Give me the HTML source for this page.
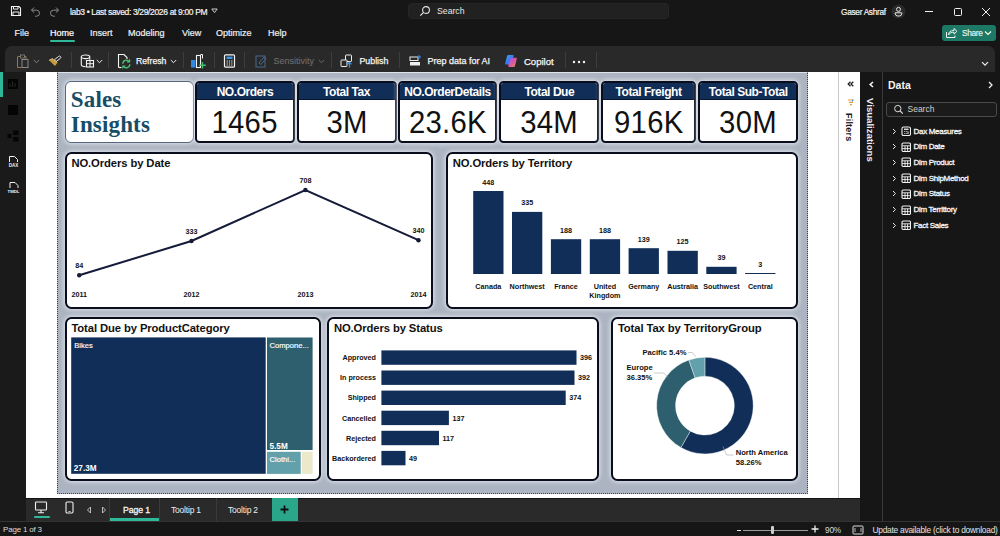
<!DOCTYPE html>
<html><head><meta charset="utf-8">
<style>
*{box-sizing:border-box;margin:0;padding:0}
html,body{width:1000px;height:536px;overflow:hidden;background:#161616;font-family:"Liberation Sans",sans-serif;color:#fff}
.a{position:absolute}
.t{position:absolute;white-space:nowrap;line-height:1}
#titlebar{left:0;top:0;width:1000px;height:46px;background:#161616}
#ribbon{left:5px;top:46px;width:990px;height:25.5px;background:#292929;border-radius:7px 7px 0 0}
.sep{position:absolute;top:52px;width:1px;height:16px;background:#3d3d3d}
.menu{font-size:9px;color:#f0f0f0;top:28.5px;-webkit-text-stroke-width:0.2px}
.rb{font-size:9.5px;color:#f6f6f6;top:57px;-webkit-text-stroke-width:0.25px}
#rail{left:0;top:72px;width:26px;height:449px;background:#1a1a1a}
#canvas{left:26px;top:72px;width:834px;height:426px;background:#fff}
#page{left:57.1px;top:72px;width:750.6px;height:421.8px;background:#abb4c0;border-top:1px solid #dfe4ec;border-right:1px dotted #444;border-bottom:1px dotted #444;border-left:1px dotted #444}
#tabs{left:26px;top:497.7px;width:834px;height:23.3px;background:#2a2a2a;border-top:1px solid #141414}
#status{left:0;top:521px;width:1000px;height:15px;background:#161616;border-top:1px solid #333}
#viz{left:860px;top:72px;width:22px;height:449px;background:#161616}
#datap{left:882px;top:72px;width:118px;height:449px;background:#161616;border-left:1px solid #3a3a3a}
.vis{position:absolute;background:#fff;border:2px solid #0a0d1c;border-radius:6.5px;box-shadow:0 0 4px 1px rgba(228,233,242,0.9)}
.kpi{position:absolute;background:#fff;border:2px solid #0a0d1c;border-radius:4.5px;overflow:hidden;box-shadow:0 0 4px 1px rgba(228,233,242,0.9)}
.kh{border-bottom:1px solid #0a1530;position:absolute;left:0;top:0;right:0;height:17px;background:#112e58;color:#fff;font-weight:bold;font-size:12px;text-align:center;line-height:19px;letter-spacing:-0.45px}
.kv{position:absolute;left:0;right:0;top:24.2px;color:#111;font-size:31.5px;text-align:center;line-height:1;letter-spacing:0.3px;transform:scaleX(0.93)}
.vt{position:absolute;left:4.5px;top:3px;color:#111;font-weight:bold;font-size:11.25px;letter-spacing:-0.1px;white-space:nowrap}
.sm{position:absolute;color:#111;font-weight:bold;font-size:7px;white-space:nowrap;line-height:1}
</style></head><body>
<div id="titlebar" class="a"></div>
<div id="ribbon" class="a"></div>
<div id="rail" class="a"></div>
<div id="canvas" class="a"></div>
<div id="page" class="a"></div>
<div id="tabs" class="a"></div>
<div id="viz" class="a"></div>
<div id="datap" class="a"></div>
<div id="status" class="a"></div>

<!-- title bar content -->
<svg class="a" style="left:10px;top:5px" width="12" height="12" viewBox="0 0 12 12"><path d="M1.5 1.5h7.5l1.5 1.5v7.5h-9z" fill="none" stroke="#f2f2f2" stroke-width="1.1"/><path d="M3.5 1.5v2.6h4.5v-2.6M3 10.5v-3.5h6v3.5" fill="none" stroke="#f2f2f2" stroke-width="1"/></svg>
<svg class="a" style="left:30px;top:6px" width="11" height="11" viewBox="0 0 11 11"><path d="M1.5 4.2l2.5-2.7M1.5 4.2l2.6 2.4M1.5 4.2h5a3 3 0 0 1 0 6h-1.5" fill="none" stroke="#8a8a8a" stroke-width="1"/></svg>
<svg class="a" style="left:49px;top:6px" width="11" height="11" viewBox="0 0 11 11"><path d="M9.5 4.2l-2.5-2.7M9.5 4.2l-2.6 2.4M9.5 4.2h-5a3 3 0 0 0 0 6h1.5" fill="none" stroke="#8a8a8a" stroke-width="1"/></svg>
<div class="t" style="left:70px;top:8.2px;font-size:8.5px;letter-spacing:-0.35px;color:#f4f4f4;-webkit-text-stroke:0.2px #f4f4f4">lab3 &#8226; Last saved: 3/29/2026 at 9:00 PM</div>
<svg class="a" style="left:211px;top:8px" width="7" height="6" viewBox="0 0 7 6"><path d="M0.8 1h5.4L3.5 4.6z" fill="none" stroke="#ddd" stroke-width="0.9"/></svg>
<div class="a" style="left:408px;top:3px;width:261px;height:16px;background:#212121;border-radius:4px;border:1px solid #262626"></div>
<svg class="a" style="left:419px;top:5px" width="12" height="12" viewBox="0 0 12 12"><circle cx="7" cy="5" r="3.4" fill="none" stroke="#e6e6e6" stroke-width="1.1"/><path d="M4.6 7.4L1.3 10.7" stroke="#e6e6e6" stroke-width="1.2"/></svg>
<div class="t" style="left:437px;top:6.5px;font-size:8.7px;color:#e8e8e8">Search</div>
<div class="t" style="left:841px;top:7.5px;font-size:8.3px;letter-spacing:-0.3px;color:#f4f4f4;-webkit-text-stroke-width:0.2px">Gaser Ashraf</div>
<svg class="a" style="left:891px;top:4px" width="15" height="15" viewBox="0 0 15 15"><circle cx="7.5" cy="7.5" r="7" fill="#2a2a2a"/><circle cx="7.5" cy="5.4" r="2" fill="none" stroke="#e8e8e8" stroke-width="1"/><path d="M4.2 8.8h6.6v1a2.6 2.6 0 0 1-2.6 2.2h-1.4a2.6 2.6 0 0 1-2.6-2.2z" fill="none" stroke="#e8e8e8" stroke-width="1"/></svg>
<div class="a" style="left:924.5px;top:11px;width:8px;height:1.2px;background:#f4f4f4"></div>
<div class="a" style="left:953.5px;top:7.5px;width:8px;height:8px;border:1px solid #f0f0f0;border-radius:1.5px"></div>
<svg class="a" style="left:981px;top:7px" width="10" height="10" viewBox="0 0 10 10"><path d="M1 1L9 9M9 1L1 9" stroke="#f0f0f0" stroke-width="1"/></svg>

<!-- menu -->
<div class="t menu" style="left:14.5px">File</div>
<div class="t menu" style="left:50px;color:#fff">Home</div>
<div class="a" style="left:50px;top:40px;width:25px;height:2px;background:#2fb899;border-radius:1px"></div>
<div class="t menu" style="left:90px">Insert</div>
<div class="t menu" style="left:128px">Modeling</div>
<div class="t menu" style="left:182px">View</div>
<div class="t menu" style="left:216px">Optimize</div>
<div class="t menu" style="left:268px">Help</div>
<div class="a" style="left:942px;top:25px;width:54px;height:16px;background:#1d7865;border-radius:3px"></div>
<svg class="a" style="left:945px;top:27px" width="13" height="12" viewBox="0 0 13 12"><path d="M1.5 5v5.5h8.5v-2" fill="none" stroke="#eaf4f1" stroke-width="1"/><path d="M3.5 8c0-3 2-4.5 5.5-4.5V1.5l3 2.8-3 2.8V5.2c-2.5 0-4.3 0.8-5.5 2.8z" fill="none" stroke="#eaf4f1" stroke-width="1"/></svg>
<div class="t" style="left:962px;top:28.7px;font-size:8.3px;letter-spacing:-0.3px;color:#eaf4f1;-webkit-text-stroke-width:0.15px">Share</div>
<svg class="a" style="left:984px;top:30px" width="8" height="6" viewBox="0 0 8 6"><path d="M1 1.5l3 3 3-3" fill="none" stroke="#f2faf7" stroke-width="1.2"/></svg>

<!-- ribbon content -->
<svg class="a" style="left:16px;top:54px" width="16" height="15" viewBox="0 0 16 15"><path d="M2 2.5h2.5M8 2.5h2v3" fill="none" stroke="#9a7a3a" stroke-width="1"/><path d="M1.5 2.5v11h4" fill="none" stroke="#9a7a3a" stroke-width="1"/><rect x="4.5" y="1" width="4" height="3" fill="none" stroke="#7a7a7a" stroke-width="0.9"/><rect x="6" y="5.5" width="6" height="8" fill="none" stroke="#8a8a8a" stroke-width="1"/></svg>
<svg class="a" style="left:33px;top:59px" width="7" height="5" viewBox="0 0 7 5"><path d="M0.8 1l2.7 2.7L6.2 1" fill="none" stroke="#8a8a8a" stroke-width="0.9"/></svg>
<svg class="a" style="left:48px;top:55px" width="14" height="12" viewBox="0 0 14 12"><path d="M1 5.2L7 11l2.6-3.6L5 3.4z" fill="#c89a3c"/><path d="M1 5.2L5 3.4" stroke="#e8d090" stroke-width="0.8"/><path d="M6.3 4.8l1.8 1.8 4.2-3.2a1.2 1.2 0 0 0-1.6-2z" fill="none" stroke="#e8e8e8" stroke-width="1"/></svg>
<div class="sep" style="left:70.5px"></div>
<svg class="a" style="left:80px;top:54px" width="15" height="14" viewBox="0 0 15 14"><ellipse cx="5.5" cy="2.8" rx="4.2" ry="1.8" fill="none" stroke="#f4f4f4" stroke-width="1.1"/><path d="M1.3 2.8v8c0 1 2 1.8 4.2 1.8M9.7 2.8v3" fill="none" stroke="#f4f4f4" stroke-width="1.1"/><rect x="6.5" y="6.5" width="7" height="6.5" fill="#292929" stroke="#f4f4f4" stroke-width="1.1"/><path d="M10 6.5v6.5M6.5 9.7h7" stroke="#f4f4f4" stroke-width="1"/></svg>
<svg class="a" style="left:96px;top:59px" width="7" height="5" viewBox="0 0 7 5"><path d="M0.8 1l2.7 2.7L6.2 1" fill="none" stroke="#eee" stroke-width="1"/></svg>
<div class="sep" style="left:107.5px"></div>
<svg class="a" style="left:117px;top:53px" width="14" height="16" viewBox="0 0 14 16"><path d="M1.5 14.5v-13h5.5l3 3v1.5" fill="none" stroke="#f4f4f4" stroke-width="1.1"/><path d="M1.5 14.5h3" stroke="#f4f4f4" stroke-width="1.1"/><path d="M5.8 10.8a3.6 3.6 0 0 1 6.4-2.2M12.8 11.2a3.6 3.6 0 0 1-6.4 2.2" fill="none" stroke="#4ccc78" stroke-width="1.3"/><path d="M12.6 6.3v2.6h-2.6M5.8 15.6v-2.6h2.6" fill="none" stroke="#4ccc78" stroke-width="1.1"/></svg>
<div class="t rb" style="left:136px;font-size:8.7px">Refresh</div>
<svg class="a" style="left:169.5px;top:59px" width="7" height="5" viewBox="0 0 7 5"><path d="M0.8 1l2.7 2.7L6.2 1" fill="none" stroke="#eee" stroke-width="1"/></svg>
<div class="sep" style="left:182.5px"></div>
<svg class="a" style="left:190px;top:53px" width="16" height="16" viewBox="0 0 16 16"><rect x="1" y="7" width="4.5" height="7.5" fill="#2f8ae0"/><rect x="6.5" y="2.5" width="4" height="12" fill="none" stroke="#f4f4f4" stroke-width="1.1"/><path d="M10.5 1.5h2v4" fill="none" stroke="#f4f4f4" stroke-width="1"/><path d="M12.5 9v6.5M9.3 12.3h6.5" stroke="#3fc070" stroke-width="1.4"/></svg>
<div class="sep" style="left:213.5px"></div>
<svg class="a" style="left:223px;top:54px" width="13" height="14" viewBox="0 0 13 14"><rect x="1.5" y="0.8" width="10" height="12.4" rx="1" fill="none" stroke="#f4f4f4" stroke-width="1.2"/><rect x="3.5" y="2.6" width="6" height="2.4" fill="#3a9ae8"/><path d="M3.6 7h1.2M5.9 7h1.2M8.2 7h1.2M3.6 9h1.2M5.9 9h1.2M8.2 9h1.2M3.6 11h1.2M5.9 11h1.2M8.2 11h1.2" stroke="#f4f4f4" stroke-width="1.1"/></svg>
<div class="sep" style="left:243.5px"></div>
<svg class="a" style="left:255px;top:54px" width="13" height="14" viewBox="0 0 13 14"><rect x="1" y="2" width="9" height="11" fill="none" stroke="#4a6a8a" stroke-width="1"/><path d="M4 9l5-6 2 1.5-5 6z" fill="none" stroke="#4a6a8a" stroke-width="1"/></svg>
<div class="t rb" style="left:273.5px;font-size:9px;color:#6d6d6d;-webkit-text-stroke-width:0.1px">Sensitivity</div>
<svg class="a" style="left:317.5px;top:59px" width="7" height="5" viewBox="0 0 7 5"><path d="M0.8 1l2.7 2.7L6.2 1" fill="none" stroke="#6a6a6a" stroke-width="1"/></svg>
<div class="sep" style="left:330.5px"></div>
<svg class="a" style="left:340px;top:54px" width="14" height="14" viewBox="0 0 14 14"><rect x="5.5" y="1" width="6" height="6.5" rx="0.6" fill="none" stroke="#eee" stroke-width="1"/><rect x="1" y="6" width="6" height="6.5" rx="0.6" fill="#292929" stroke="#eee" stroke-width="1"/><path d="M9.5 13.5v-5M7.5 10.3l2-2 2 2" fill="none" stroke="#3a8fe0" stroke-width="1.2"/></svg>
<div class="t rb" style="left:359.5px;font-size:8.8px">Publish</div>
<div class="sep" style="left:398.5px"></div>
<svg class="a" style="left:409px;top:54px" width="13" height="14" viewBox="0 0 13 14"><rect x="1" y="3" width="8" height="3.5" fill="none" stroke="#eee" stroke-width="1"/><rect x="1" y="8" width="10" height="3.5" fill="#eee"/><path d="M10 1v4M8 3h4" stroke="#3a8fe0" stroke-width="1"/></svg>
<div class="t rb" style="left:427.5px;font-size:9px">Prep data for AI</div>
<svg class="a" style="left:504px;top:54px" width="14" height="14" viewBox="0 0 14 14"><defs><linearGradient id="cp1" x1="0" y1="0" x2="1" y2="1"><stop offset="0" stop-color="#3fb0f5"/><stop offset="0.6" stop-color="#3a6ff0"/><stop offset="1" stop-color="#5ad070"/></linearGradient><linearGradient id="cp2" x1="0" y1="0" x2="1" y2="1"><stop offset="0" stop-color="#8a5cf0"/><stop offset="0.5" stop-color="#e856b0"/><stop offset="1" stop-color="#f5a040"/></linearGradient></defs><path d="M4.5 1h4.2c0.8 0 1.2 0.6 1 1.3L7.4 9.5c-0.2 0.6-0.8 1-1.4 1H2.2c-0.8 0-1.2-0.6-1-1.3L3.1 2c0.2-0.6 0.8-1 1.4-1z" fill="url(#cp1)"/><path d="M7.6 3.8h4.2c0.8 0 1.2 0.6 1 1.3l-1.9 6.9c-0.2 0.6-0.8 1-1.4 1H5.3c-0.8 0-1.2-0.6-1-1.3L6.2 4.8c0.2-0.6 0.8-1 1.4-1z" fill="url(#cp2)" opacity="0.92"/></svg>
<div class="t rb" style="left:524px;font-size:9.5px">Copilot</div>
<div class="sep" style="left:564.5px"></div>
<svg class="a" style="left:572px;top:60px" width="14" height="4" viewBox="0 0 14 4"><circle cx="2" cy="2" r="1.2" fill="#f2f2f2"/><circle cx="7" cy="2" r="1.2" fill="#f2f2f2"/><circle cx="12" cy="2" r="1.2" fill="#f2f2f2"/></svg>
<div class="sep" style="left:595.5px"></div>
<svg class="a" style="left:981px;top:61px" width="8" height="6" viewBox="0 0 8 6"><path d="M1 1.2l3 3 3-3" fill="none" stroke="#eee" stroke-width="1.2"/></svg>


<!-- left rail -->
<div class="a" style="left:0;top:72px;width:2.5px;height:25px;background:#2fb899"></div>
<svg class="a" style="left:8px;top:79px" width="10" height="10" viewBox="0 0 10 10"><rect x="0" y="0" width="10" height="10" fill="#050505"/><path d="M2 8V5M4.5 8V2.5M7 8V4" stroke="#262626" stroke-width="1"/></svg>
<div class="a" style="left:8px;top:105px;width:10px;height:9.5px;background:#050505"></div>
<svg class="a" style="left:7px;top:130px" width="12" height="12" viewBox="0 0 12 12"><rect x="0.5" y="4" width="4" height="4" fill="#050505"/><rect x="6" y="0.5" width="5.5" height="4.5" fill="#050505"/><rect x="6" y="7" width="5.5" height="4.5" fill="#050505"/></svg>
<svg class="a" style="left:7px;top:155px" width="13" height="14" viewBox="0 0 13 14"><path d="M2.5 7V1.5h5l3 3V7" fill="none" stroke="#f0f0f0" stroke-width="1"/><text x="6.5" y="12" font-size="4.5" font-family="Liberation Sans" font-weight="bold" fill="#f0f0f0" text-anchor="middle">DAX</text></svg>
<svg class="a" style="left:6px;top:181px" width="15" height="14" viewBox="0 0 15 14"><path d="M4 7V1.5h5l3 3V7" fill="none" stroke="#f0f0f0" stroke-width="1"/><text x="7.5" y="12" font-size="4.3" font-family="Liberation Sans" font-weight="bold" fill="#f0f0f0" text-anchor="middle">TMDL</text></svg>

<!-- canvas inner line + filters pane -->
<div class="a" style="left:838px;top:72px;width:1px;height:426px;background:#c8c8c8"></div>
<svg class="a" style="left:846.5px;top:80.5px" width="7" height="6" viewBox="0 0 7 6"><path d="M3.5 0.8L1.2 3 3.5 5.2M6.3 0.8L4 3 6.3 5.2" fill="none" stroke="#222" stroke-width="1.3"/></svg>
<svg class="a" style="left:847px;top:99px" width="8" height="7" viewBox="0 0 8 7"><path d="M1 1h6M2 3.3h4M3 5.6h2" stroke="#e89a30" stroke-width="1.2"/><path d="M5.5 0.5v2" stroke="#3a8ae0" stroke-width="0.9"/></svg>
<div class="t" style="left:852.5px;top:112.5px;transform-origin:0 0;transform:rotate(90deg);font-size:9px;font-weight:bold;color:#1a1a1a;letter-spacing:0.2px">Filters</div>
<svg class="a" style="left:868px;top:81px" width="7" height="7" viewBox="0 0 7 7"><path d="M5 1L2.2 3.5 5 6" fill="none" stroke="#f4f4f4" stroke-width="1.6"/></svg>
<div class="t" style="left:875px;top:98px;transform-origin:0 0;transform:rotate(90deg);font-size:9.6px;font-weight:bold;color:#f0f0f0;letter-spacing:0px">Visualizations</div>

<!-- data pane -->
<div class="t" style="left:888px;top:80px;font-size:10.5px;font-weight:bold;color:#f4f4f4">Data</div>
<svg class="a" style="left:987px;top:81px" width="7" height="8" viewBox="0 0 7 8"><path d="M2 1l3 3-3 3" fill="none" stroke="#f0f0f0" stroke-width="1.3"/></svg>
<div class="a" style="left:885.5px;top:102px;width:111.5px;height:14.5px;border:1px solid #4a4a4a;border-radius:3px;background:#1b1b1b"></div>
<svg class="a" style="left:892.5px;top:104px" width="11" height="11" viewBox="0 0 11 11"><circle cx="4.8" cy="4.6" r="3.2" fill="none" stroke="#ddd" stroke-width="1"/><path d="M7.2 7l2.6 2.6" stroke="#ddd" stroke-width="1.1"/></svg>
<div class="t" style="left:907.5px;top:105px;font-size:8.5px;color:#cfcfcf">Search</div>
<svg class="a" style="left:892px;top:127.5px" width="5" height="7" viewBox="0 0 5 7"><path d="M1 1l2.5 2.5L1 6" fill="none" stroke="#e8e8e8" stroke-width="1"/></svg><svg class="a" style="left:900.5px;top:126.0px" width="10" height="10" viewBox="0 0 10 10"><rect x="1" y="1" width="8.5" height="8.5" rx="1.6" fill="none" stroke="#f2f2f2" stroke-width="1.1"/><rect x="3" y="2.6" width="4.5" height="1.3" fill="#f2f2f2"/><path d="M3.3 5.5h1M5.3 5.5h1M3.3 7.5h1M5.3 7.5h1M7 5.5v2.5" stroke="#f2f2f2" stroke-width="0.9"/></svg><div class="t" style="left:913.5px;top:127.6px;font-size:8px;color:#f8f8f8;letter-spacing:-0.3px;-webkit-text-stroke-width:0.3px">Dax Measures</div>
<svg class="a" style="left:892px;top:143.2px" width="5" height="7" viewBox="0 0 5 7"><path d="M1 1l2.5 2.5L1 6" fill="none" stroke="#e8e8e8" stroke-width="1"/></svg><svg class="a" style="left:900.5px;top:141.7px" width="10" height="10" viewBox="0 0 10 10"><rect x="1" y="1" width="8.5" height="8.5" rx="1.3" fill="none" stroke="#f2f2f2" stroke-width="1.1"/><path d="M1 3.8h8.5M1 6.6h8.5M4 3.8v5.7M6.6 3.8v5.7" stroke="#f2f2f2" stroke-width="0.9"/></svg><div class="t" style="left:913.5px;top:143.3px;font-size:8px;color:#f8f8f8;letter-spacing:-0.3px;-webkit-text-stroke-width:0.3px">Dim Date</div>
<svg class="a" style="left:892px;top:158.9px" width="5" height="7" viewBox="0 0 5 7"><path d="M1 1l2.5 2.5L1 6" fill="none" stroke="#e8e8e8" stroke-width="1"/></svg><svg class="a" style="left:900.5px;top:157.4px" width="10" height="10" viewBox="0 0 10 10"><rect x="1" y="1" width="8.5" height="8.5" rx="1.3" fill="none" stroke="#f2f2f2" stroke-width="1.1"/><path d="M1 3.8h8.5M1 6.6h8.5M4 3.8v5.7M6.6 3.8v5.7" stroke="#f2f2f2" stroke-width="0.9"/></svg><div class="t" style="left:913.5px;top:159.0px;font-size:8px;color:#f8f8f8;letter-spacing:-0.3px;-webkit-text-stroke-width:0.3px">Dim Product</div>
<svg class="a" style="left:892px;top:174.6px" width="5" height="7" viewBox="0 0 5 7"><path d="M1 1l2.5 2.5L1 6" fill="none" stroke="#e8e8e8" stroke-width="1"/></svg><svg class="a" style="left:900.5px;top:173.1px" width="10" height="10" viewBox="0 0 10 10"><rect x="1" y="1" width="8.5" height="8.5" rx="1.3" fill="none" stroke="#f2f2f2" stroke-width="1.1"/><path d="M1 3.8h8.5M1 6.6h8.5M4 3.8v5.7M6.6 3.8v5.7" stroke="#f2f2f2" stroke-width="0.9"/></svg><div class="t" style="left:913.5px;top:174.7px;font-size:8px;color:#f8f8f8;letter-spacing:-0.3px;-webkit-text-stroke-width:0.3px">Dim ShipMethod</div>
<svg class="a" style="left:892px;top:190.3px" width="5" height="7" viewBox="0 0 5 7"><path d="M1 1l2.5 2.5L1 6" fill="none" stroke="#e8e8e8" stroke-width="1"/></svg><svg class="a" style="left:900.5px;top:188.8px" width="10" height="10" viewBox="0 0 10 10"><rect x="1" y="1" width="8.5" height="8.5" rx="1.3" fill="none" stroke="#f2f2f2" stroke-width="1.1"/><path d="M1 3.8h8.5M1 6.6h8.5M4 3.8v5.7M6.6 3.8v5.7" stroke="#f2f2f2" stroke-width="0.9"/></svg><div class="t" style="left:913.5px;top:190.4px;font-size:8px;color:#f8f8f8;letter-spacing:-0.3px;-webkit-text-stroke-width:0.3px">Dim Status</div>
<svg class="a" style="left:892px;top:206.0px" width="5" height="7" viewBox="0 0 5 7"><path d="M1 1l2.5 2.5L1 6" fill="none" stroke="#e8e8e8" stroke-width="1"/></svg><svg class="a" style="left:900.5px;top:204.5px" width="10" height="10" viewBox="0 0 10 10"><rect x="1" y="1" width="8.5" height="8.5" rx="1.3" fill="none" stroke="#f2f2f2" stroke-width="1.1"/><path d="M1 3.8h8.5M1 6.6h8.5M4 3.8v5.7M6.6 3.8v5.7" stroke="#f2f2f2" stroke-width="0.9"/></svg><div class="t" style="left:913.5px;top:206.1px;font-size:8px;color:#f8f8f8;letter-spacing:-0.3px;-webkit-text-stroke-width:0.3px">Dim Territtory</div>
<svg class="a" style="left:892px;top:221.7px" width="5" height="7" viewBox="0 0 5 7"><path d="M1 1l2.5 2.5L1 6" fill="none" stroke="#e8e8e8" stroke-width="1"/></svg><svg class="a" style="left:900.5px;top:220.2px" width="10" height="10" viewBox="0 0 10 10"><rect x="1" y="1" width="8.5" height="8.5" rx="1.3" fill="none" stroke="#f2f2f2" stroke-width="1.1"/><path d="M1 3.8h8.5M1 6.6h8.5M4 3.8v5.7M6.6 3.8v5.7" stroke="#f2f2f2" stroke-width="0.9"/></svg><div class="t" style="left:913.5px;top:221.8px;font-size:8px;color:#f8f8f8;letter-spacing:-0.3px;-webkit-text-stroke-width:0.3px">Fact Sales</div>

<!-- tabs bar -->
<svg class="a" style="left:34px;top:501px" width="14" height="13" viewBox="0 0 14 13"><rect x="1.5" y="1" width="11" height="8" rx="0.8" fill="none" stroke="#f0f0f0" stroke-width="1.1"/><path d="M7 9v2.5M4 11.8h6" stroke="#f0f0f0" stroke-width="1.1"/></svg>
<div class="a" style="left:33.5px;top:516px;width:16px;height:2px;background:#2fb899;border-radius:1px"></div>
<svg class="a" style="left:65px;top:501px" width="9" height="13" viewBox="0 0 9 13"><rect x="1" y="1" width="7" height="11" rx="1.2" fill="none" stroke="#f0f0f0" stroke-width="1.1"/><path d="M3.5 10.5h2" stroke="#f0f0f0" stroke-width="0.8"/></svg>
<svg class="a" style="left:86px;top:506px" width="6" height="8" viewBox="0 0 6 8"><path d="M4.5 1L1.5 4l3 3z" fill="none" stroke="#ccc" stroke-width="0.9"/></svg>
<svg class="a" style="left:100.5px;top:506px" width="6" height="8" viewBox="0 0 6 8"><path d="M1.5 1l3 3-3 3z" fill="none" stroke="#ccc" stroke-width="0.9"/></svg>
<div class="a" style="left:109px;top:498px;width:1px;height:23px;background:#3a3a3a"></div>
<div class="a" style="left:110px;top:498px;width:49px;height:23px;background:#262626"></div>
<div class="a" style="left:110px;top:518px;width:49px;height:3px;background:#2fb899"></div>
<div class="a" style="left:159px;top:498px;width:1px;height:23px;background:#3a3a3a"></div>
<div class="a" style="left:215.5px;top:498px;width:1px;height:23px;background:#3a3a3a"></div>
<div class="a" style="left:271.5px;top:498px;width:26px;height:23px;background:#2aa68a"></div>
<div class="t" style="left:123px;top:506px;font-size:8.7px;color:#f4f4f4;letter-spacing:-0.1px;-webkit-text-stroke:0.3px #f4f4f4">Page 1</div>
<div class="t" style="left:171px;top:506px;font-size:8.5px;color:#f0f0f0;letter-spacing:-0.2px">Tooltip 1</div>
<div class="t" style="left:228px;top:506px;font-size:8.5px;color:#f0f0f0;letter-spacing:-0.2px">Tooltip 2</div>
<svg class="a" style="left:280px;top:505px" width="9" height="9" viewBox="0 0 9 9"><path d="M4.5 0.5v8M0.5 4.5h8" stroke="#101010" stroke-width="1.8"/></svg>

<!-- status bar -->
<div class="t" style="left:3px;top:526px;font-size:8px;color:#dcdcdc;letter-spacing:-0.2px">Page 1 of 3</div>
<div class="a" style="left:737px;top:529.5px;width:4px;height:1.2px;background:#e8e8e8"></div>
<div class="a" style="left:743px;top:529.5px;width:65px;height:1px;background:#9a9a9a"></div>
<div class="a" style="left:771px;top:526px;width:3px;height:8px;background:#ccc;border-radius:1px"></div>
<svg class="a" style="left:810.5px;top:525px" width="8" height="8" viewBox="0 0 8 8"><path d="M4 0.5v7M0.5 4h7" stroke="#f0f0f0" stroke-width="1.3"/></svg>
<div class="t" style="left:825px;top:526px;font-size:8.3px;color:#dcdcdc;letter-spacing:-0.2px">90%</div>
<svg class="a" style="left:852px;top:525px" width="12" height="10" viewBox="0 0 12 10"><rect x="1" y="1" width="10" height="8" rx="0.8" fill="none" stroke="#ddd" stroke-width="1"/><path d="M3 3v4M9 3v4" stroke="#ddd" stroke-width="0.8"/></svg>
<div class="t" style="left:872.5px;top:526px;font-size:8.4px;color:#e4e4e4;letter-spacing:-0.25px">Update available (click to download)</div>

<!-- KPI row -->
<div class="vis" style="left:65.20px;top:80.70px;width:128.80px;height:62.60px;border:1.2px solid #56667d;border-radius:6px"></div>
<div class="t" style="left:70.8px;top:87.2px;font-family:'Liberation Serif',serif;font-weight:bold;font-size:23px;line-height:25px;letter-spacing:0.15px;color:#174d66">Sales<br>Insights</div>

<div class="kpi" style="left:195.40px;top:81.00px;width:99.20px;height:62.10px"><div class="kh">NO.Orders</div><div class="kv">1465</div></div>
<div class="kpi" style="left:296.50px;top:81.00px;width:100.10px;height:62.10px"><div class="kh">Total Tax</div><div class="kv">3M</div></div>
<div class="kpi" style="left:397.60px;top:81.00px;width:99.80px;height:62.10px"><div class="kh">NO.OrderDetails</div><div class="kv">23.6K</div></div>
<div class="kpi" style="left:499.30px;top:81.00px;width:100.10px;height:62.10px"><div class="kh">Total Due</div><div class="kv">34M</div></div>
<div class="kpi" style="left:600.70px;top:81.00px;width:95.60px;height:62.10px"><div class="kh">Total Freight</div><div class="kv">916K</div></div>
<div class="kpi" style="left:698.20px;top:81.00px;width:100.00px;height:62.10px"><div class="kh">Total Sub-Total</div><div class="kv">30M</div></div>

<!-- Visuals -->
<div class="vis" style="left:64.90px;top:152.30px;width:368.50px;height:156.50px"><div class="vt">NO.Orders by Date</div></div>
<div class="vis" style="left:446.20px;top:152.30px;width:351.40px;height:156.50px"><div class="vt">NO.Orders by Territory</div></div>
<div class="vis" style="left:64.90px;top:317.40px;width:255.90px;height:164.05px"><div class="vt">Total Due by ProductCategory</div></div>
<div class="vis" style="left:327.40px;top:317.40px;width:271.60px;height:164.05px"><div class="vt">NO.Orders by Status</div></div>
<div class="vis" style="left:611.40px;top:317.40px;width:186.40px;height:164.05px"><div class="vt">Total Tax by TerritoryGroup</div></div>

<svg class="a" style="left:0;top:0" width="1000" height="536" viewBox="0 0 1000 536" font-family="Liberation Sans" font-weight="bold">
<polyline points="79.2,275.3 191.5,241 305.4,190 418.5,240.2" fill="none" stroke="#141a38" stroke-width="2"/>
<circle cx="79.2" cy="275.3" r="2.2" fill="#141a38"/>
<text x="79.2" y="267.8" font-size="7.2" fill="#111" text-anchor="middle">84</text>
<text x="79.2" y="296.8" font-size="7.2" fill="#111" text-anchor="middle">2011</text>
<circle cx="191.5" cy="241" r="2.2" fill="#141a38"/>
<text x="191.5" y="233.5" font-size="7.2" fill="#111" text-anchor="middle">333</text>
<text x="191.5" y="296.8" font-size="7.2" fill="#111" text-anchor="middle">2012</text>
<circle cx="305.4" cy="190" r="2.2" fill="#141a38"/>
<text x="305.4" y="182.5" font-size="7.2" fill="#111" text-anchor="middle">708</text>
<text x="305.4" y="296.8" font-size="7.2" fill="#111" text-anchor="middle">2013</text>
<circle cx="418.5" cy="240.2" r="2.2" fill="#141a38"/>
<text x="418.5" y="232.7" font-size="7.2" fill="#111" text-anchor="middle">340</text>
<text x="418.5" y="296.8" font-size="7.2" fill="#111" text-anchor="middle">2014</text>
<rect x="473.2" y="191.0" width="30.3" height="83.0" fill="#112e58"/>
<text x="488.3" y="184.5" font-size="7.2" fill="#111" text-anchor="middle">448</text>
<text x="488.3" y="289.0" font-size="7.2" fill="#111" text-anchor="middle">Canada</text>
<rect x="512.0" y="211.9" width="30.3" height="62.1" fill="#112e58"/>
<text x="527.2" y="205.4" font-size="7.2" fill="#111" text-anchor="middle">335</text>
<text x="527.2" y="289.0" font-size="7.2" fill="#111" text-anchor="middle">Northwest</text>
<rect x="550.9" y="239.2" width="30.3" height="34.8" fill="#112e58"/>
<text x="566.0" y="232.7" font-size="7.2" fill="#111" text-anchor="middle">188</text>
<text x="566.0" y="289.0" font-size="7.2" fill="#111" text-anchor="middle">France</text>
<rect x="589.8" y="239.2" width="30.3" height="34.8" fill="#112e58"/>
<text x="604.9" y="232.7" font-size="7.2" fill="#111" text-anchor="middle">188</text>
<text x="604.9" y="289.0" font-size="7.2" fill="#111" text-anchor="middle">United</text>
<text x="604.9" y="298" font-size="7.2" fill="#111" text-anchor="middle">Kingdom</text>
<rect x="628.6" y="248.2" width="30.3" height="25.8" fill="#112e58"/>
<text x="643.8" y="241.7" font-size="7.2" fill="#111" text-anchor="middle">139</text>
<text x="643.8" y="289.0" font-size="7.2" fill="#111" text-anchor="middle">Germany</text>
<rect x="667.5" y="250.8" width="30.3" height="23.2" fill="#112e58"/>
<text x="682.6" y="244.3" font-size="7.2" fill="#111" text-anchor="middle">125</text>
<text x="682.6" y="289.0" font-size="7.2" fill="#111" text-anchor="middle">Australia</text>
<rect x="706.3" y="266.8" width="30.3" height="7.2" fill="#112e58"/>
<text x="721.4" y="260.3" font-size="7.2" fill="#111" text-anchor="middle">39</text>
<text x="721.4" y="289.0" font-size="7.2" fill="#111" text-anchor="middle">Southwest</text>
<rect x="745.1" y="273.0" width="30.3" height="1" fill="#112e58"/>
<text x="760.3" y="266.9" font-size="7.2" fill="#111" text-anchor="middle">3</text>
<text x="760.3" y="289.0" font-size="7.2" fill="#111" text-anchor="middle">Central</text>
<rect x="381.4" y="350.4" width="195.1" height="14.4" fill="#112e58"/>
<text x="376" y="360.2" font-size="7.2" fill="#111" text-anchor="end">Approved</text>
<text x="580.0" y="360.2" font-size="7.2" fill="#111">396</text>
<rect x="381.4" y="370.5" width="193.1" height="14.4" fill="#112e58"/>
<text x="376" y="380.3" font-size="7.2" fill="#111" text-anchor="end">In process</text>
<text x="578.0" y="380.3" font-size="7.2" fill="#111">392</text>
<rect x="381.4" y="390.6" width="184.3" height="14.4" fill="#112e58"/>
<text x="376" y="400.4" font-size="7.2" fill="#111" text-anchor="end">Shipped</text>
<text x="569.2" y="400.4" font-size="7.2" fill="#111">374</text>
<rect x="381.4" y="410.7" width="67.5" height="14.4" fill="#112e58"/>
<text x="376" y="420.5" font-size="7.2" fill="#111" text-anchor="end">Cancelled</text>
<text x="452.4" y="420.5" font-size="7.2" fill="#111">137</text>
<rect x="381.4" y="430.8" width="57.6" height="14.4" fill="#112e58"/>
<text x="376" y="440.6" font-size="7.2" fill="#111" text-anchor="end">Rejected</text>
<text x="442.5" y="440.6" font-size="7.2" fill="#111">117</text>
<rect x="381.4" y="450.9" width="24.1" height="14.4" fill="#112e58"/>
<text x="376" y="460.7" font-size="7.2" fill="#111" text-anchor="end">Backordered</text>
<text x="409.0" y="460.7" font-size="7.2" fill="#111">49</text>
<rect x="71.2" y="337.4" width="194.5" height="136.4" fill="#112e58"/>
<rect x="267" y="337.5" width="45.6" height="112.5" fill="#2d5f6e"/>
<rect x="267" y="451.8" width="33.7" height="22.1" fill="#62a0ab"/>
<rect x="301.9" y="451.8" width="10.7" height="22.1" fill="#ebe8cc"/>
<text x="74.2" y="348" font-size="7.6" font-weight="normal" fill="#fff" stroke="#fff" stroke-width="0.15">Bikes</text>
<text x="73.8" y="471.3" font-size="8.2" fill="#fff">27.3M</text>
<text x="269.5" y="348" font-size="7.6" font-weight="normal" fill="#fff" stroke="#fff" stroke-width="0.15">Compone...</text>
<text x="269.5" y="449.3" font-size="8.2" fill="#fff">5.5M</text>
<text x="269.5" y="461.8" font-size="7.6" font-weight="normal" fill="#fff" stroke="#fff" stroke-width="0.15">Clothi...</text>
<path d="M704.90,357.30 A48.3,48.3 0 1 1 680.94,447.54 L690.32,431.13 A29.4,29.4 0 1 0 704.90,376.20 Z" fill="#112e58" stroke="#fff" stroke-width="0.4"/>
<path d="M680.94,447.54 A48.3,48.3 0 0 1 688.85,360.04 L695.13,377.87 A29.4,29.4 0 0 0 690.32,431.13 Z" fill="#2d5f6e" stroke="#fff" stroke-width="0.4"/>
<path d="M688.85,360.04 A48.3,48.3 0 0 1 704.90,357.30 L704.90,376.20 A29.4,29.4 0 0 0 695.13,377.87 Z" fill="#62a0ab" stroke="#fff" stroke-width="0.4"/>
<text x="642.5" y="355" font-size="7.6" fill="#111">Pacific 5.4%</text>
<path d="M688 352.5h4.5l3 4" fill="none" stroke="#aaa" stroke-width="0.6"/>
<text x="626.5" y="370" font-size="7.6" fill="#111">Europe</text>
<text x="626.5" y="380" font-size="7.6" fill="#111">36.35%</text>
<path d="M654 373h10l4 4.5" fill="none" stroke="#aaa" stroke-width="0.6"/>
<text x="735.7" y="455" font-size="7.6" fill="#111">North America</text>
<text x="735.7" y="465" font-size="7.6" fill="#111">58.26%</text>
<path d="M723 446.5l3.5 8.5h7" fill="none" stroke="#aaa" stroke-width="0.6"/>
</svg>
</body></html>
